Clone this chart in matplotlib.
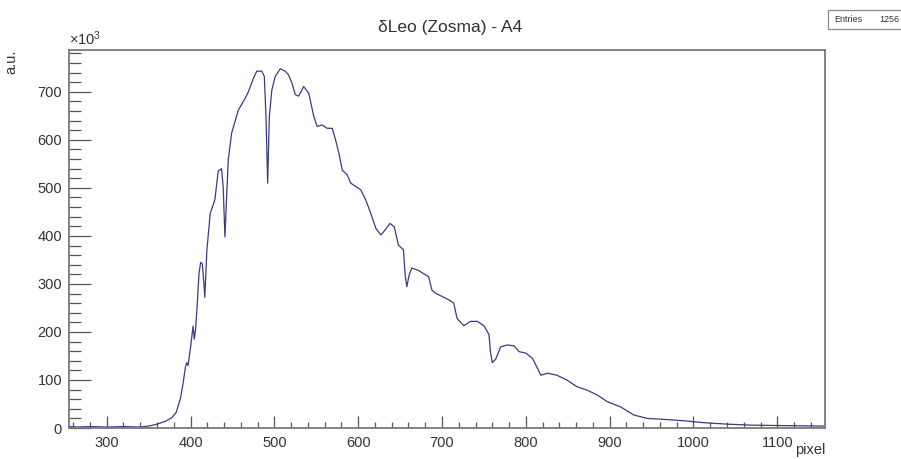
import numpy as np
import matplotlib
matplotlib.use("Agg")
import matplotlib.pyplot as plt
from matplotlib.ticker import MultipleLocator

plt.rcParams['font.family'] = ['Liberation Sans', 'DejaVu Sans']
plt.rcParams['mathtext.fontset'] = 'custom'
plt.rcParams['mathtext.rm'] = 'Liberation Sans'
plt.rcParams['mathtext.it'] = 'Liberation Sans'

# spectrum (pixel, a.u. in units of 10^3)
pixel = [255, 265, 280, 300, 320, 340, 350, 360, 370, 378, 383, 388, 391, 394,
         395.5, 397, 400, 403, 404.5, 406, 408, 410, 412, 414, 416, 417, 419.5,
         423.5, 429, 433, 437, 439, 441, 443, 445, 449, 457, 465, 469, 475, 479,
         485, 488, 490, 492, 494, 497, 501, 507, 513, 517, 521, 525, 529, 535,
         541, 547, 551, 557, 563, 569, 573, 577, 581, 587, 591, 597, 603, 609,
         615, 621, 627, 632, 638, 643, 648, 654, 656, 658, 661, 664, 672, 684,
         688, 692, 700, 708, 714, 718, 726, 734, 742, 750, 756, 758, 760, 762,
         764, 770, 778, 786, 792, 800, 808, 818, 826, 837, 849, 861, 873, 885,
         897, 913, 929, 945, 965, 989, 1013, 1041, 1069, 1108, 1156]
counts = [3, 2, 3, 2, 3, 2, 4, 8, 14, 22, 33, 62, 92, 128,
          136, 130, 168, 212, 185, 205, 258, 320, 345, 342, 300, 272, 371,
          447, 475, 535, 540, 500, 398, 480, 558, 614, 662, 686, 700, 728, 743,
          743, 732, 650, 510, 649, 704, 732, 748, 743, 735, 718, 694, 691, 711,
          697, 649, 628, 631, 624, 624, 600, 572, 537, 527, 510, 503, 496, 475,
          447, 416, 402, 412, 426, 419, 381, 371, 320, 294, 320, 333, 328, 315,
          287, 281, 274, 267, 260, 228, 213, 222, 222, 213, 195, 156, 136, 140,
          143, 169, 173, 171, 159, 156, 145, 110, 114, 110, 100, 86, 79, 69,
          55, 44, 27, 20, 18, 15, 11, 8, 6, 5, 4]

title = "δLeo (Zosma) - A4"
entries = 1256

fig = plt.figure(figsize=(9.01, 4.59), dpi=100)
ax = fig.add_axes([0.0766, 0.0675, 0.8391, 0.8235])

ax.plot(pixel, counts, color='#3b3b80', lw=0.9)

ax.set_xlim(255, 1157)
ax.set_ylim(0, 787)

ax.xaxis.set_major_locator(MultipleLocator(100))
ax.xaxis.set_minor_locator(MultipleLocator(20))
ax.yaxis.set_major_locator(MultipleLocator(100))
ax.yaxis.set_minor_locator(MultipleLocator(20))

ax.tick_params(axis='x', which='major', direction='in', length=8.5, width=0.9,
               color='#555555', labelsize=10.5, pad=6, top=False,
               labelcolor='#333333')
ax.tick_params(axis='x', which='minor', direction='in', length=4.5, width=0.9,
               color='#555555', top=False)
ax.tick_params(axis='y', which='major', direction='in', length=16, width=0.9,
               color='#555555', labelsize=10.5, pad=5, right=False,
               labelcolor='#333333')
ax.tick_params(axis='y', which='minor', direction='in', length=8.5, width=0.9,
               color='#555555', right=False)

for s in ax.spines.values():
    s.set_color('#7a7a7a')
    s.set_linewidth(1.3)

ax.text(0.0, 1.005, r'$\times10^{3}$', transform=ax.transAxes, fontsize=10.5,
        ha='left', va='bottom', color='#333333')
ax.set_ylabel('a.u.', fontsize=10.5, loc='top', labelpad=14, color='#333333')
fig.text(0.9157, 0.004, 'pixel', fontsize=10.5, ha='right', va='bottom',
         color='#333333')

fig.text(0.5, 0.94, title, ha='center', va='center', fontsize=12.5,
         color='#333333')

# stats box, cut by the figure's right edge
fig.text(0.926, 0.957, 'Entries', fontsize=6.5, ha='left', va='center',
         color='#333333')
fig.text(0.998, 0.957, str(entries), fontsize=6.5, ha='right', va='center',
         color='#333333')
box = plt.Rectangle((0.919, 0.937), 0.1, 0.041, transform=fig.transFigure,
                    fill=False, edgecolor='#888888', lw=0.9)
fig.add_artist(box)

fig.savefig('out.png', dpi=100)
